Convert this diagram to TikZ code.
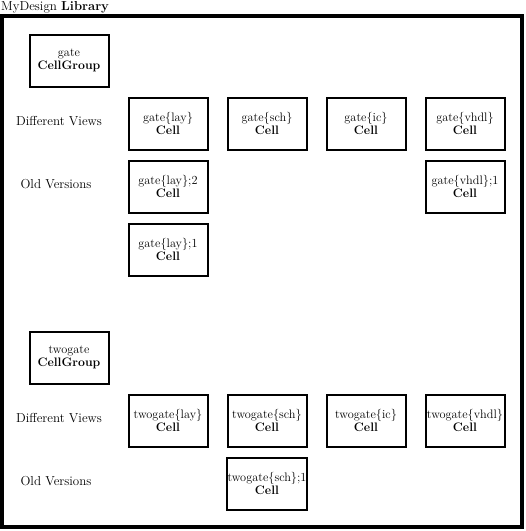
\documentclass[tikz,border=0pt]{standalone}
\usepackage{tikz}
\usetikzlibrary{positioning}

\begin{document}
\begin{tikzpicture}[x=1pt, y=-1pt,
    cellbox/.style={draw, line width=2pt, minimum width=79pt, minimum height=52pt,
        align=center, inner sep=1pt, font=\fontsize{12.3}{13.5}\selectfont},
    rowlabel/.style={font=\fontsize{13}{15}\selectfont}]

\useasboundingbox (0,0) rectangle (526,531);

% Library frame
\draw[line width=4pt] (2,16) rectangle (522,527);
\node[anchor=base west, inner sep=0pt, font=\fontsize{13}{15}\selectfont] (lib) at (1,10) {MyDesign \textbf{Library}};

% gate
\node[cellbox] (gate) at (69,60.5) {gate\\\textbf{CellGroup}};
\node[rowlabel] (gviews) at (59,121) {Different Views};
\node[rowlabel] (gold) at (56,184) {Old Versions};

\node[cellbox] (glay) at (168,123.5) {gate\{lay\}\\\textbf{Cell}};
\node[cellbox] (gsch) at (267,123.5) {gate\{sch\}\\\textbf{Cell}};
\node[cellbox] (gic) at (366,123.5) {gate\{ic\}\\\textbf{Cell}};
\node[cellbox] (gvhdl) at (465,123.5) {gate\{vhdl\}\\\textbf{Cell}};

\node[cellbox] (glaytwo) at (168,186.5) {gate\{lay\};2\\\textbf{Cell}};
\node[cellbox] (gvhdlone) at (465,186.5) {gate\{vhdl\};1\\\textbf{Cell}};
\node[cellbox] (glayone) at (168,249.5) {gate\{lay\};1\\\textbf{Cell}};

% twogate
\node[cellbox] (twogate) at (69,357.5) {twogate\\\textbf{CellGroup}};
\node[rowlabel] (tviews) at (59,418) {Different Views};
\node[rowlabel] (told) at (56,481) {Old Versions};

\node[cellbox] (tlay) at (168,420.5) {twogate\{lay\}\\\textbf{Cell}};
\node[cellbox] (tsch) at (267,420.5) {twogate\{sch\}\\\textbf{Cell}};
\node[cellbox] (tic) at (366,420.5) {twogate\{ic\}\\\textbf{Cell}};
\node[cellbox] (tvhdl) at (465,420.5) {twogate\{vhdl\}\\\textbf{Cell}};

\node[cellbox] (tschone) at (267,483.5) {twogate\{sch\};1\\\textbf{Cell}};

\end{tikzpicture}
\end{document}
